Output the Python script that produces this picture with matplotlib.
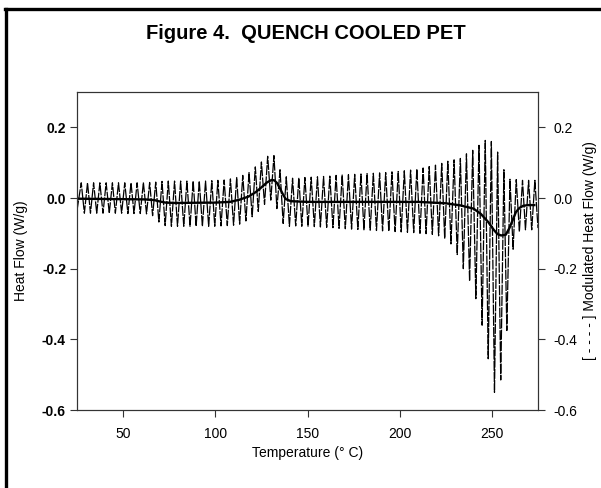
import matplotlib
matplotlib.use("Agg")
import matplotlib.pyplot as plt
from matplotlib.lines import Line2D
import numpy as np

plt.rcParams['font.family'] = ['Liberation Sans', 'DejaVu Sans']
plt.rcParams['axes.unicode_minus'] = False

# total heat flow (thick solid line)
hf_temp = [25, 45, 62, 67, 70, 73, 78, 100, 108, 113, 118, 122, 125, 128, 130.5,
           132, 133.5, 135, 136.5, 138.2, 141, 150, 180, 210, 225, 233, 240, 244,
           248, 251, 253, 255, 257.5, 259.5, 261, 263, 265, 267, 270, 273]
hf_flow = [-0.002, -0.003, -0.004, -0.006, -0.010, -0.013, -0.014, -0.013, -0.011,
           -0.005, 0.004, 0.017, 0.030, 0.044, 0.051, 0.050, 0.042, 0.028, 0.012,
           -0.003, -0.009, -0.011, -0.011, -0.011, -0.015, -0.021, -0.030, -0.045,
           -0.068, -0.090, -0.102, -0.106, -0.104, -0.085, -0.066, -0.040, -0.028,
           -0.022, -0.020, -0.020]

# modulated heat flow, read as the tops and bottoms of each cycle
peak_temp = [27.3, 30.7, 34.0, 37.4, 40.8, 44.2, 47.5, 50.9, 54.3, 57.6,
             61.0, 64.4, 67.7, 71.1, 74.5, 77.9, 81.2, 84.6, 88.0, 91.3,
             94.7, 98.1, 101.4, 104.8, 108.2, 111.6, 114.9, 118.3, 121.7, 125.0,
             128.4, 131.8, 135.1, 138.5, 141.9, 145.3, 148.6, 152.0, 155.4, 158.7,
             162.1, 165.5, 168.8, 172.2, 175.6, 179.0, 182.3, 185.7, 189.1, 192.4,
             195.8, 199.2, 202.5, 205.9, 209.3, 212.7, 216.0, 219.4, 222.8, 226.1,
             229.5, 232.9, 236.2, 239.6, 243.0, 246.4, 249.7, 253.1, 256.5, 259.8,
             263.2, 266.6, 269.9, 273.3]
peak_flow = [0.043, 0.043, 0.043, 0.043, 0.043, 0.043, 0.043, 0.043, 0.043, 0.043,
             0.044, 0.044, 0.045, 0.047, 0.048, 0.048, 0.048, 0.048, 0.048, 0.048,
             0.048, 0.049, 0.050, 0.051, 0.054, 0.058, 0.064, 0.072, 0.088, 0.102,
             0.118, 0.120, 0.080, 0.060, 0.056, 0.057, 0.058, 0.059, 0.060, 0.061,
             0.062, 0.064, 0.065, 0.066, 0.067, 0.068, 0.069, 0.070, 0.071, 0.072,
             0.074, 0.075, 0.077, 0.079, 0.082, 0.085, 0.089, 0.093, 0.098, 0.104,
             0.108, 0.112, 0.125, 0.135, 0.149, 0.163, 0.160, 0.130, 0.080, 0.053,
             0.052, 0.050, 0.050, 0.050]
trough_temp = [25.0, 29.0, 32.3, 35.7, 39.1, 42.5, 45.8, 49.2, 52.6, 55.9,
               59.3, 62.7, 66.0, 69.4, 72.8, 76.2, 79.5, 82.9, 86.3, 89.6,
               93.0, 96.4, 99.7, 103.1, 106.5, 109.9, 113.2, 116.6, 120.0, 123.3,
               126.7, 130.1, 133.4, 136.8, 140.2, 143.6, 146.9, 150.3, 153.7, 157.0,
               160.4, 163.8, 167.1, 170.5, 173.9, 177.3, 180.6, 184.0, 187.4, 190.7,
               194.1, 197.5, 200.8, 204.2, 207.6, 211.0, 214.3, 217.7, 221.1, 224.4,
               227.8, 231.2, 234.5, 237.9, 241.3, 244.7, 248.0, 251.4, 254.8, 258.1,
               261.5, 264.9, 268.2, 271.6, 275.0]
trough_flow = [-0.035, -0.043, -0.043, -0.043, -0.043, -0.043, -0.043, -0.043, -0.044, -0.044,
               -0.044, -0.045, -0.050, -0.068, -0.078, -0.080, -0.080, -0.080, -0.080, -0.080,
               -0.080, -0.080, -0.080, -0.079, -0.078, -0.077, -0.074, -0.065, -0.053, -0.038,
               -0.018, -0.006, -0.030, -0.072, -0.080, -0.079, -0.080, -0.080, -0.081, -0.082,
               -0.083, -0.084, -0.086, -0.087, -0.088, -0.089, -0.090, -0.091, -0.092, -0.093,
               -0.094, -0.095, -0.096, -0.097, -0.098, -0.100, -0.101, -0.103, -0.107, -0.115,
               -0.130, -0.160, -0.200, -0.235, -0.285, -0.360, -0.455, -0.550, -0.515, -0.375,
               -0.145, -0.095, -0.090, -0.090, -0.085]

x_ticks = [50, 100, 150, 200, 250]
y_ticks = [-0.6, -0.4, -0.2, 0.0, 0.2]

mod_temp = np.concatenate([peak_temp, trough_temp])
mod_flow = np.concatenate([peak_flow, trough_flow])
order = np.argsort(mod_temp)
mod_temp = mod_temp[order]
mod_flow = mod_flow[order]

fig = plt.figure(figsize=(6.01, 4.88), dpi=100)
ax = fig.add_axes([77/601, 1-410/488, (538-77)/601, (410-92)/488])

ax.plot(mod_temp, mod_flow, color='black', lw=0.9, linestyle=(0, (8, 1)))
ax.plot(hf_temp, hf_flow, color='black', lw=1.7)

ax.set_xlim(25, 275)
ax.set_ylim(-0.6, 0.3)
ax.set_xticks(x_ticks)
ax.set_yticks(y_ticks)
ax.set_yticklabels(['%.1f' % v for v in y_ticks], fontweight='bold')
ax.tick_params(axis='both', direction='out', length=5, width=0.8, labelsize=10, color='#333333')
ax.tick_params(axis='x', pad=7)
ax.tick_params(axis='y', pad=3)
for s in ax.spines.values():
    s.set_linewidth(0.8)
    s.set_color('#333333')
ax.set_xlabel('Temperature (° C)', fontsize=10, labelpad=4)
ax.set_ylabel('Heat Flow (W/g)', fontsize=10, labelpad=10)

ax2 = ax.twinx()
ax2.set_ylim(-0.6, 0.3)
ax2.set_yticks(y_ticks)
ax2.set_yticklabels(['%.1f' % v for v in y_ticks])
ax2.tick_params(axis='y', direction='out', length=5, width=0.8, labelsize=10, pad=6, color='#333333')
for s in ax2.spines.values():
    s.set_linewidth(0.8)
    s.set_color('#333333')
ax2.set_ylabel('[ - - - - ] Modulated Heat Flow (W/g)', fontsize=10, labelpad=4)

fig.text(306/601, 1-39/488, 'Figure 4.  QUENCH COOLED PET', ha='center', va='baseline',
         fontsize=14.5, fontweight='bold')

# page frame
fig.add_artist(Line2D([6/601, 6/601], [0, 1-9/488], color='black', lw=2.4,
                      transform=fig.transFigure))
fig.add_artist(Line2D([5/601, 1], [1-9/488, 1-9/488], color='black', lw=2.4,
                      transform=fig.transFigure))

fig.savefig('out.png', dpi=100)
